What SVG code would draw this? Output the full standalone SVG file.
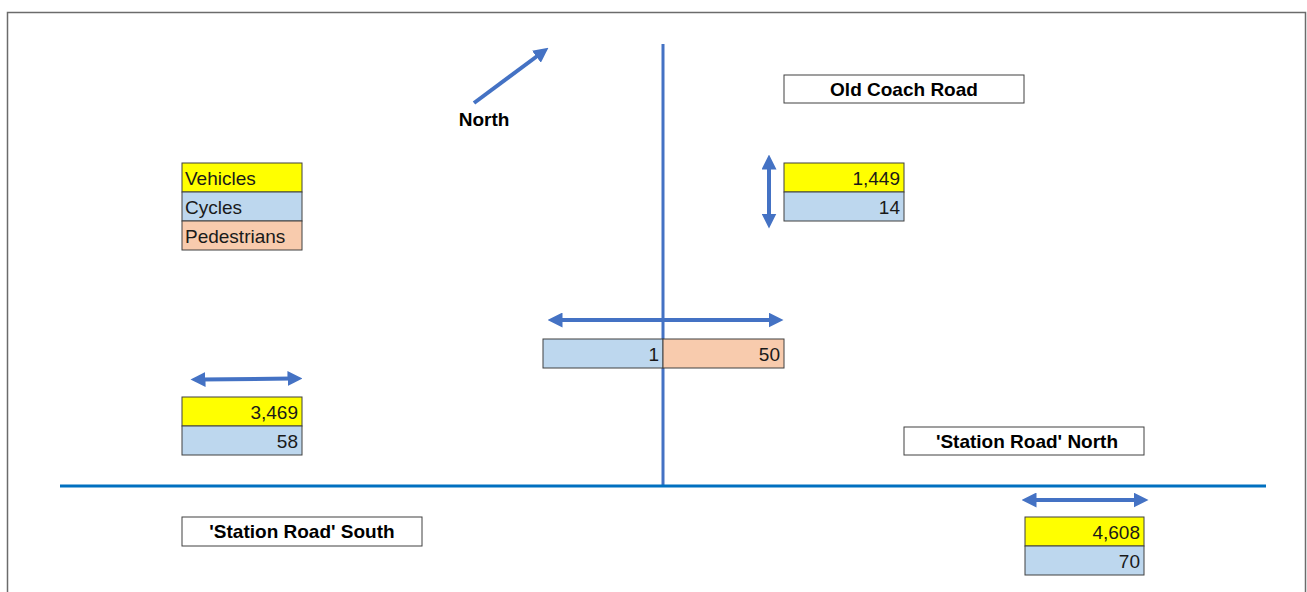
<svg xmlns="http://www.w3.org/2000/svg" width="1307" height="592" viewBox="0 0 1307 592">
<style>
.cell{stroke:#404040;stroke-width:1}
.y{fill:#FFFF00}.b{fill:#BDD7EE}.p{fill:#F8CBAD}.w{fill:#FFFFFF}
.t{font-family:"Liberation Sans",Arial,sans-serif;font-size:19px;fill:#1a1a1a}
.r{text-anchor:end}
.h{font-family:"Liberation Sans",Arial,sans-serif;font-size:19px;font-weight:bold;fill:#000;text-anchor:middle}
.arr{stroke:#4472C4;stroke-width:4;fill:none}
</style>
<defs>
<marker id="ah" viewBox="0 0 10 10" refX="3" refY="5" markerWidth="15" markerHeight="15" markerUnits="userSpaceOnUse" orient="auto-start-reverse">
<path d="M0,0 L10,5 L0,10 Z" fill="#4472C4"/>
</marker>
</defs>
<rect x="0" y="0" width="1307" height="592" fill="#FFFFFF"/>
<path d="M7.5,600 V12.5 H1305.5 V600" fill="none" stroke="#6b6b6b" stroke-width="1.5"/>
<g id="roads">
<line x1="663" y1="44" x2="663" y2="486" stroke="#4472C4" stroke-width="3"/>
<line x1="60" y1="486" x2="1266" y2="486" stroke="#0070C0" stroke-width="3"/>
</g>
<g id="connectors">
<line class="arr" x1="474" y1="103" x2="540" y2="54" marker-end="url(#ah)"/>
<line class="arr" x1="769" y1="165" x2="769" y2="218" marker-start="url(#ah)" marker-end="url(#ah)"/>
<line class="arr" x1="558" y1="320" x2="773" y2="320" marker-start="url(#ah)" marker-end="url(#ah)"/>
<line class="arr" x1="201" y1="379.5" x2="292" y2="378.5" marker-start="url(#ah)" marker-end="url(#ah)"/>
<line class="arr" x1="1032" y1="500" x2="1138" y2="500" marker-start="url(#ah)" marker-end="url(#ah)"/>
</g>
<g id="north-label">
<text class="h" x="484" y="126">North</text>
</g>
<g id="legend">
<rect class="cell y" x="182" y="163" width="120" height="29"/>
<rect class="cell b" x="182" y="192" width="120" height="29"/>
<rect class="cell p" x="182" y="221" width="120" height="29"/>
<text class="t" x="185" y="185">Vehicles</text>
<text class="t" x="185" y="214">Cycles</text>
<text class="t" x="185" y="243">Pedestrians</text>
</g>
<g id="old-coach-road">
<rect class="cell w" x="784" y="75" width="240" height="28"/>
<text class="h" x="904" y="96">Old Coach Road</text>
</g>
<g id="old-coach-counts">
<rect class="cell y" x="784" y="163" width="120" height="29"/>
<rect class="cell b" x="784" y="192" width="120" height="29"/>
<text class="t r" x="900" y="185">1,449</text>
<text class="t r" x="900" y="214">14</text>
</g>
<g id="centre-counts">
<rect class="cell b" x="543" y="339" width="120" height="29"/>
<rect class="cell p" x="663" y="339" width="121" height="29"/>
<text class="t r" x="659" y="361">1</text>
<text class="t r" x="780" y="361">50</text>
</g>
<g id="west-counts">
<rect class="cell y" x="182" y="397" width="120" height="29"/>
<rect class="cell b" x="182" y="426" width="120" height="29"/>
<text class="t r" x="298" y="419">3,469</text>
<text class="t r" x="298" y="448">58</text>
</g>
<g id="station-road-north">
<rect class="cell w" x="904" y="427" width="240" height="28"/>
<text class="h" x="1027" y="448">'Station Road' North</text>
</g>
<g id="station-road-south">
<rect class="cell w" x="182" y="517" width="240" height="29"/>
<text class="h" x="302" y="538">'Station Road' South</text>
</g>
<g id="east-counts">
<rect class="cell y" x="1025" y="517" width="119" height="29"/>
<rect class="cell b" x="1025" y="546" width="119" height="29"/>
<text class="t r" x="1140" y="539">4,608</text>
<text class="t r" x="1140" y="568">70</text>
</g>
</svg>
